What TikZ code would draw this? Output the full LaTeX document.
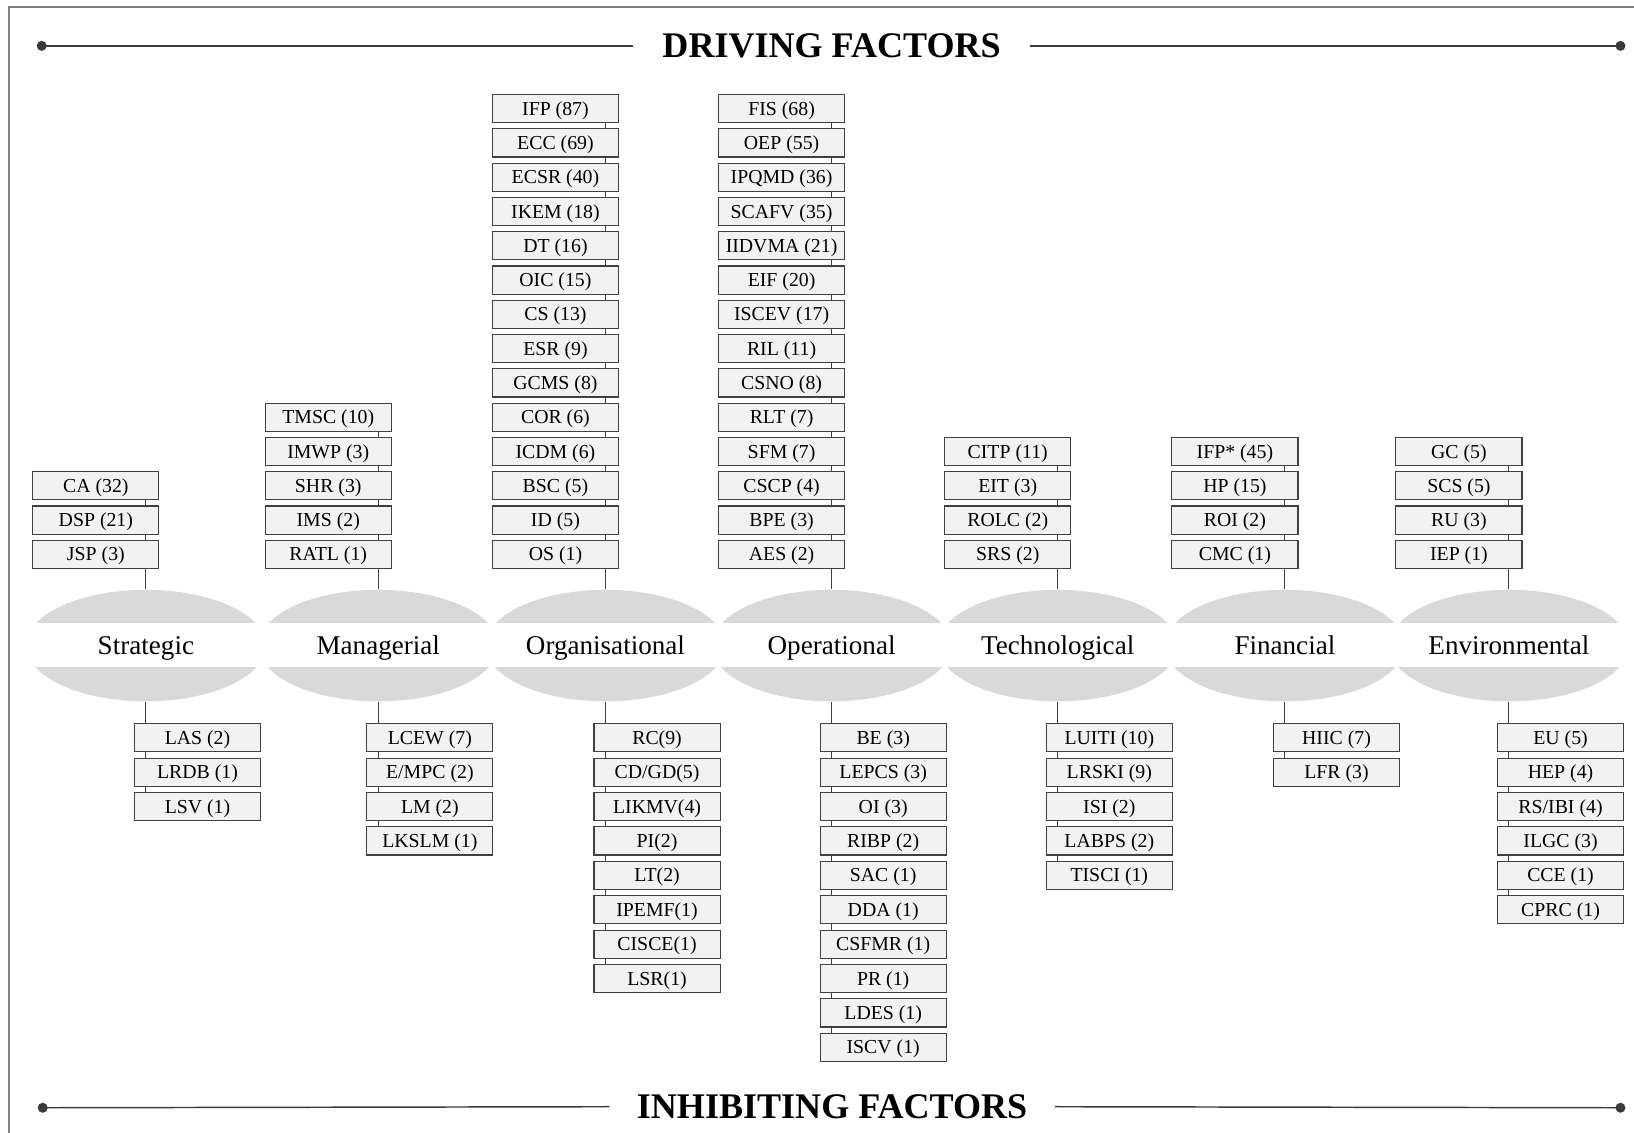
\documentclass[tikz,border=0pt]{standalone}
\usepackage{fontspec}
\setmainfont{Liberation Serif}
\usetikzlibrary{shapes.geometric,calc}
\definecolor{boxfill}{HTML}{F2F2F2}
\definecolor{boxline}{HTML}{404040}
\definecolor{ellfill}{HTML}{D9D9D9}
\definecolor{frameline}{HTML}{808080}
\definecolor{dotcol}{HTML}{3A3A3A}
\tikzset{
  fbox/.style={draw=boxline, fill=boxfill, line width=0.55pt, minimum width=60.5pt,
    minimum height=13.5pt, inner sep=0pt, text height=6.3pt, text depth=0pt,
    font=\fontsize{9.5}{10}\selectfont},
  catell/.style={ellipse, fill=ellfill, minimum width=115pt, minimum height=53.5pt, inner sep=0pt},
  catlab/.style={font=\fontsize{13}{15}\selectfont, inner sep=0pt, text height=8.6pt, text depth=0pt},
  conn/.style={draw=boxline, line width=0.5pt},
  ttl/.style={font=\bfseries\fontsize{17.3}{20}\selectfont, inner ysep=0pt, text height=11.5pt, text depth=0pt},
  hline/.style={draw=dotcol, line width=0.7pt},
  enddot/.style={fill=dotcol}
}
% #1 prefix, #2 ellipse name, #3 cx, #4 items
\newcommand\mktop[4]{%
  \foreach \t [count=\i] in {#4} {\xdef\nitems{\i}}
  \foreach \t [count=\i] in {#4} {
    \pgfmathsetmacro\yy{532-(\nitems-\i)*32.9}
    \node[fbox] (#1-\i) at (#3-48,\yy) {\t};
  }
  \foreach \i in {2,...,\nitems} {
    \pgfmathtruncatemacro\p{\i-1}
    \draw[conn] (#1-\p.south -| #2) -- (#1-\i.north -| #2);
  }
  \draw[conn] (#1-\nitems.south -| #2) -- (#2.north);
}
\newcommand\mkbot[4]{%
  \foreach \t [count=\i] in {#4} {\xdef\nitems{\i}}
  \foreach \t [count=\i] in {#4} {
    \pgfmathsetmacro\yy{708+(\i-1)*33}
    \node[fbox] (#1-\i) at (#3+49.5,\yy) {\t};
  }
  \foreach \i in {2,...,\nitems} {
    \pgfmathtruncatemacro\p{\i-1}
    \draw[conn] (#1-\p.south -| #2) -- (#1-\i.north -| #2);
  }
  \draw[conn] (#2.south) -- (#1-1.north -| #2);
}
\begin{document}
\begin{tikzpicture}[x=0.5pt,y=-0.5pt]
\useasboundingbox (0,0) rectangle (1568,1087);
% frame (top and left edges)
\draw[frameline, line width=1pt] (8.6,1087) -- (8.6,6.7) -- (1568,6.7);

% titles
\node[ttl, inner xsep=14pt] (dt) at (798,44) {DRIVING FACTORS};
\coordinate (dl) at (40,44);
\coordinate (dr) at (1555,44);
\draw[hline] (dl) -- (dt.west);
\draw[hline] (dt.east) -- (dr);
\fill[enddot] (dl) circle (2.4pt);
\fill[enddot] (dr) circle (2.4pt);

\node[ttl, inner xsep=13pt] (it) at (798.5,1062) {INHIBITING FACTORS};
\coordinate (il) at (41,1063);
\coordinate (ir) at (1555,1063);
\draw[hline] (il) -- (it.west);
\draw[hline] (it.east) -- (ir);
\fill[enddot] (il) circle (2.4pt);
\fill[enddot] (ir) circle (2.4pt);

% category ellipses
\node[catell] (e1) at (140,619.5) {};
\node[catell] (e2) at (363,619.5) {};
\node[catell] (e3) at (581,619.5) {};
\node[catell] (e4) at (798,619.5) {};
\node[catell] (e5) at (1015,619.5) {};
\node[catell] (e6) at (1233,619.5) {};
\node[catell] (e7) at (1448,619.5) {};
% white band
\fill[white] (20,598) rectangle (1566,640.5);
% category labels
\node[catlab] (l1) at (e1) {Strategic};
\node[catlab] (l2) at (e2) {Managerial};
\node[catlab] (l3) at (e3) {Organisational};
\node[catlab] (l4) at (e4) {Operational};
\node[catlab] (l5) at (e5) {Technological};
\node[catlab] (l6) at (e6) {Financial};
\node[catlab] (l7) at (e7) {Environmental};

% driving factors
\mktop{ta}{e1}{140}{{CA (32)},{DSP (21)},{JSP (3)}}
\mktop{tb}{e2}{363}{{TMSC (10)},{IMWP (3)},{SHR (3)},{IMS (2)},{RATL (1)}}
\mktop{tc}{e3}{581}{{IFP (87)},{ECC (69)},{ECSR (40)},{IKEM (18)},{DT (16)},{OIC (15)},{CS (13)},{ESR (9)},{GCMS (8)},{COR (6)},{ICDM (6)},{BSC (5)},{ID (5)},{OS (1)}}
\mktop{td}{e4}{798}{{FIS (68)},{OEP (55)},{IPQMD (36)},{SCAFV (35)},{IIDVMA (21)},{EIF (20)},{ISCEV (17)},{RIL (11)},{CSNO (8)},{RLT (7)},{SFM (7)},{CSCP (4)},{BPE (3)},{AES (2)}}
\mktop{te}{e5}{1015}{{CITP (11)},{EIT (3)},{ROLC (2)},{SRS (2)}}
\mktop{tf}{e6}{1233}{{IFP* (45)},{HP (15)},{ROI (2)},{CMC (1)}}
\mktop{tg}{e7}{1448}{{GC (5)},{SCS (5)},{RU (3)},{IEP (1)}}

% inhibiting factors
\mkbot{ba}{e1}{140}{{LAS (2)},{LRDB (1)},{LSV (1)}}
\mkbot{bb}{e2}{363}{{LCEW (7)},{E/MPC (2)},{LM (2)},{LKSLM (1)}}
\mkbot{bc}{e3}{581}{{RC(9)},{CD/GD(5)},{LIKMV(4)},{PI(2)},{LT(2)},{IPEMF(1)},{CISCE(1)},{LSR(1)}}
\mkbot{bd}{e4}{798}{{BE (3)},{LEPCS (3)},{OI (3)},{RIBP (2)},{SAC (1)},{DDA (1)},{CSFMR (1)},{PR (1)},{LDES (1)},{ISCV (1)}}
\mkbot{be}{e5}{1015}{{LUITI (10)},{LRSKI (9)},{ISI (2)},{LABPS (2)},{TISCI (1)}}
\mkbot{bf}{e6}{1233}{{HIIC (7)},{LFR (3)}}
\mkbot{bg}{e7}{1448}{{EU (5)},{HEP (4)},{RS/IBI (4)},{ILGC (3)},{CCE (1)},{CPRC (1)}}
\end{tikzpicture}
\end{document}
